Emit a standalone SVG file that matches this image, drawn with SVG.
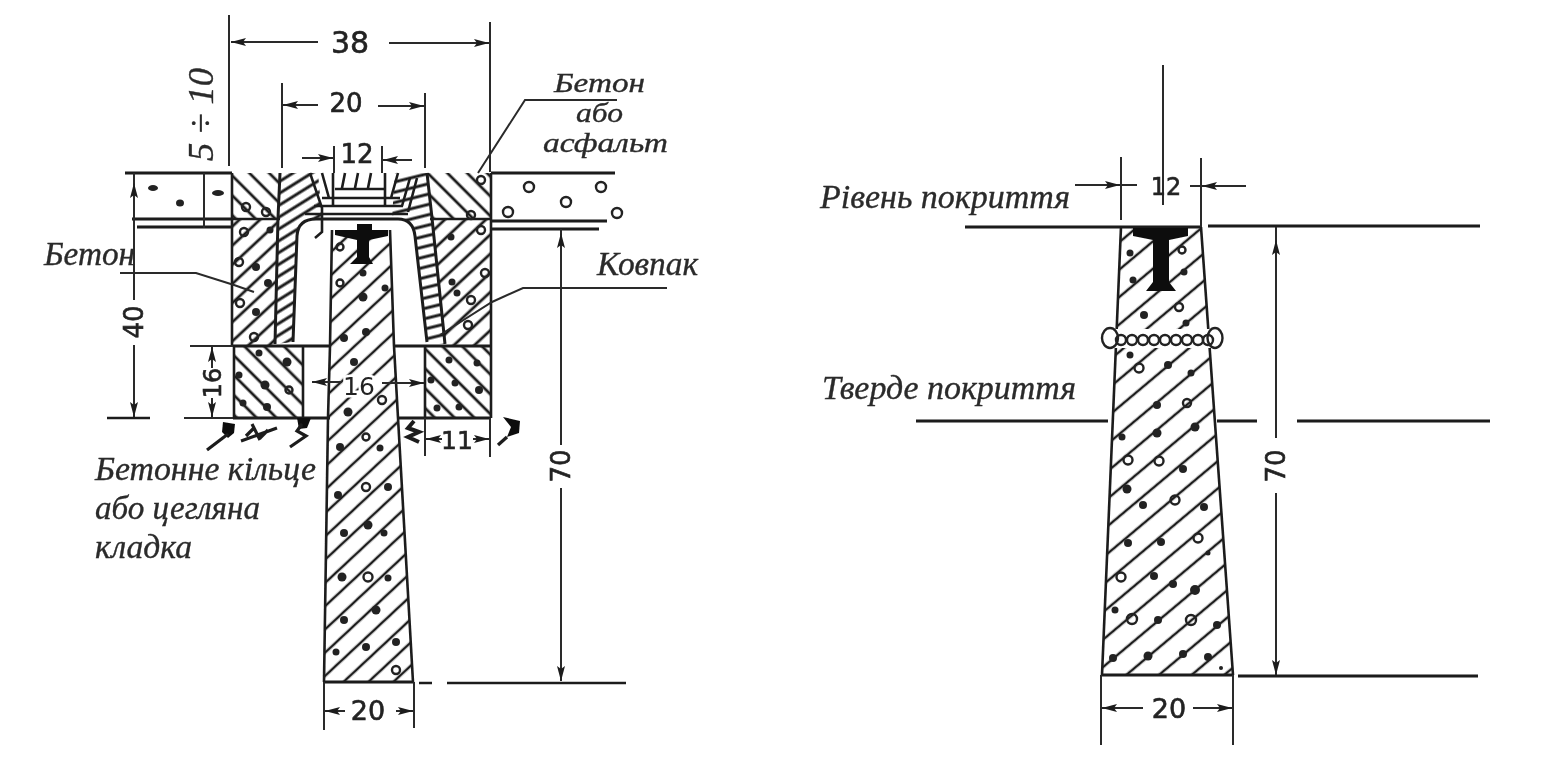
<svg xmlns="http://www.w3.org/2000/svg" width="1543" height="766" viewBox="0 0 1543 766">
<style>
.l{stroke:#1c1c1c;stroke-width:2.6;fill:none}
.t{stroke:#2a2a2a;stroke-width:2;fill:none}
.h{stroke:#1c1c1c;stroke-width:3;fill:none}
.a{marker-end:url(#ar)}
.o{fill:none;stroke:#222;stroke-width:2.4}
.d{fill:#222;stroke:none}
.n{font-family:"DejaVu Sans",sans-serif;font-size:26px;fill:#222;text-anchor:middle;stroke:#222;stroke-width:.6}
.c{font-family:"Liberation Serif","Times New Roman",serif;font-style:italic;font-size:33px;fill:#2a2a2a;stroke:#2a2a2a;stroke-width:.35}
.k{fill:#111;stroke:none}
.w{fill:#fff;stroke:none}
.e{fill:none;stroke:#1c1c1c;stroke-width:3.2}
</style>
<defs>
<filter id="scan" filterUnits="userSpaceOnUse" x="0" y="0" width="1543" height="766"><feGaussianBlur stdDeviation="0.55"/></filter>
<marker id="ar" markerWidth="16" markerHeight="9" refX="15" refY="4.5" orient="auto" markerUnits="userSpaceOnUse"><path d="M0 0.5L15 4.5L0 8.5L3 4.5Z" fill="#1c1c1c"/></marker>
<pattern id="hf" width="17" height="17" patternUnits="userSpaceOnUse" patternTransform="rotate(-43)"><line x1="0" y1="2" x2="17" y2="2" stroke="#1c1c1c" stroke-width="2.5"/></pattern>
<pattern id="hr" width="21" height="21" patternUnits="userSpaceOnUse" patternTransform="rotate(-40)"><line x1="0" y1="2" x2="21" y2="2" stroke="#1c1c1c" stroke-width="2.5"/></pattern>
<pattern id="hu" width="14" height="14" patternUnits="userSpaceOnUse" patternTransform="rotate(-43)"><line x1="0" y1="2" x2="14" y2="2" stroke="#1c1c1c" stroke-width="2.8"/></pattern>
<pattern id="hb" width="14" height="14" patternUnits="userSpaceOnUse" patternTransform="rotate(45)"><line x1="0" y1="2" x2="14" y2="2" stroke="#1c1c1c" stroke-width="2.8"/></pattern>
<pattern id="hc" width="10" height="10" patternUnits="userSpaceOnUse" patternTransform="rotate(-32)"><line x1="0" y1="2" x2="10" y2="2" stroke="#1c1c1c" stroke-width="3"/></pattern>
<pattern id="hcr" width="10" height="10" patternUnits="userSpaceOnUse" patternTransform="rotate(-14)"><line x1="0" y1="2" x2="10" y2="2" stroke="#1c1c1c" stroke-width="3"/></pattern>
</defs>
<rect width="1543" height="766" fill="#fff"/>
<g filter="url(#scan)">
<g id="ground-left">
<path class="h" d="M125 173H232M132 219H232M137 227H232"/>
<ellipse class="d" cx="153" cy="188" rx="5" ry="3"/><ellipse class="d" cx="180" cy="203" rx="4" ry="3.5"/><ellipse class="d" cx="218" cy="193" rx="6" ry="3"/>
</g>
<g id="ground-right">
<path class="h" d="M491 173H615M491 221H607M491 229H599"/>
<circle class="o" cx="529" cy="187" r="5"/><circle class="o" cx="601" cy="187" r="5"/><circle class="o" cx="566" cy="202" r="5"/><circle class="o" cx="508" cy="212" r="5"/><circle class="o" cx="617" cy="213" r="5"/>
</g>

<g id="concrete-block-upper">
<path fill="url(#hb)" d="M232 173H280L278 219H232ZM427 173H491V220H432Z"/>
<path fill="url(#hu)" d="M232 219H278L275 346H232ZM432 220H491V346H445Z"/>
<path class="l" d="M232 173V346M491 173V346M232 219H280M430 219H491"/>
<circle class="o" cx="246" cy="207" r="4"/><circle class="o" cx="266" cy="212" r="4"/><circle class="o" cx="244" cy="232" r="4"/><circle class="d" cx="270" cy="230" r="3.5"/><circle class="o" cx="239" cy="262" r="4"/><circle class="d" cx="256" cy="267" r="4"/><circle class="d" cx="268" cy="283" r="4"/><circle class="o" cx="240" cy="303" r="4"/><circle class="d" cx="256" cy="312" r="4"/><circle class="o" cx="254" cy="337" r="4"/>
<circle class="o" cx="481" cy="180" r="4"/><circle class="o" cx="471" cy="215" r="4"/><circle class="d" cx="451" cy="237" r="3.5"/><circle class="o" cx="481" cy="230" r="4"/><circle class="o" cx="485" cy="273" r="4"/><circle class="d" cx="457" cy="293" r="3.5"/><circle class="o" cx="471" cy="300" r="4"/><circle class="o" cx="468" cy="325" r="4"/><circle class="d" cx="452" cy="282" r="3.5"/>
</g>

<g id="cap">
<path fill="url(#hc)" d="M280 173H318L322 218H305L298 232L293 342L275 344L278 218Z"/>
<path fill="url(#hcr)" d="M395 173H427L432 218L445 344L427 342L414 232L403 218H392Z"/>
<path class="w" d="M293 342L297 236Q298 219 316 219H398Q413 219 415 236L427 342Z"/>
<path class="h" d="M280 173L278 218L275 344M427 173L432 218L445 344"/>
<path class="h" d="M297 236Q298 219 316 219H398Q413 219 415 236L427 342M297 236L293 342"/>
<path class="l" d="M335 189H385M322 198H400M314 206H403M305 214H408M310 173L322 208V232L315 238M322 173L329 198M333 173V206M385 173V206M345 173L342 188M358 173L355 188M371 173L368 188M398 173L391 198M410 178L402 206M417 178L408 212"/>
<path class="h" d="M233 346H330M394 346H491"/>
</g>

<g id="concrete-block-lower">
<path fill="url(#hb)" d="M233 346H303V418H233ZM425 346H491V418H425Z"/>
<path class="l" d="M234 346V418M303 346V418M425 346V418M491 346V418"/>
<path class="h" d="M233 418H330M397 418H491"/>
<circle class="d" cx="259" cy="353" r="3.5"/><circle class="d" cx="287" cy="362" r="4.5"/><circle class="d" cx="265" cy="385" r="4.5"/><circle class="o" cx="289" cy="390" r="3.5"/><circle class="d" cx="239" cy="375" r="3.5"/><circle class="d" cx="267" cy="407" r="4"/><circle class="d" cx="243" cy="403" r="3.5"/>
<circle class="d" cx="449" cy="360" r="3.5"/><circle class="d" cx="477" cy="363" r="3.5"/><circle class="d" cx="455" cy="383" r="3.5"/><circle class="d" cx="479" cy="390" r="4"/><circle class="d" cx="431" cy="380" r="3.5"/><circle class="d" cx="459" cy="407" r="3.5"/><circle class="d" cx="437" cy="408" r="3.5"/>
</g>

<g id="earth-marks">
<path class="k" d="M223 422L235 424L234 433L228 438L222 432Z"/>
<path class="e" d="M207 450L228 434M241 441L277 428M252 424L260 440M246 436L254 428M260 438L268 430"/>
<path class="k" d="M297 418H311L307 428L299 429Z"/>
<path class="e" d="M302 424L297 431L306 436L290 447"/>
<path class="e" style="stroke-width:4" d="M414 421L408 428L419 432L408 437L419 442"/>
<path class="k" d="M503 417L520 421L519 433L507 437L511 427Z"/>
<path class="e" d="M507 437L498 445"/>
</g>

<g id="pile-left">
<path fill="url(#hf)" d="M332 230H390L394 346L398 418L413 682H324L328 418L330 346Z"/>
<path class="l" d="M332 230L330 346L328 418L324 682M390 230L394 346L398 418L413 682"/>
<path class="h" d="M324 682H413"/>
<path class="k" d="M357 224H372V230H388V236L369 240V257L373 264H350L357 257V240L335 235V230H357Z"/>
<circle class="o" cx="340" cy="247" r="3.5"/><circle class="o" cx="340" cy="283" r="3.5"/><circle class="d" cx="363" cy="297" r="4.5"/><circle class="d" cx="385" cy="288" r="3.5"/><circle class="d" cx="344" cy="338" r="4"/><circle class="d" cx="366" cy="332" r="4"/><circle class="d" cx="363" cy="273" r="3.5"/>
<circle class="d" cx="354" cy="362" r="4"/><circle class="d" cx="348" cy="412" r="4.5"/><circle class="o" cx="382" cy="400" r="4"/><circle class="d" cx="340" cy="447" r="4"/><circle class="o" cx="366" cy="437" r="3.5"/><circle class="d" cx="380" cy="448" r="3.5"/><circle class="d" cx="338" cy="495" r="4"/><circle class="o" cx="366" cy="487" r="4"/><circle class="d" cx="388" cy="487" r="4"/><circle class="d" cx="344" cy="533" r="4"/><circle class="d" cx="368" cy="525" r="4.5"/><circle class="d" cx="384" cy="533" r="3.5"/><circle class="d" cx="342" cy="577" r="4.5"/><circle class="o" cx="368" cy="577" r="4.5"/><circle class="d" cx="388" cy="578" r="3.5"/><circle class="d" cx="344" cy="620" r="4"/><circle class="d" cx="376" cy="610" r="4.5"/><circle class="d" cx="336" cy="652" r="3.5"/><circle class="d" cx="366" cy="647" r="4"/><circle class="d" cx="396" cy="642" r="4"/><circle class="o" cx="396" cy="670" r="4"/>
</g>

<g id="pile-right">
<path fill="url(#hr)" d="M1121 227H1201L1233 675H1102Z"/>
<path class="l" d="M1121 227L1102 675M1201 227L1233 675"/>
<path class="h" d="M1102 675H1233M1121 227H1201"/>
<path class="k" d="M1133 228H1188V236L1169 240V282L1176 291H1146L1153 282V240L1133 236Z"/>
<path class="w" d="M1112 329H1213V348H1112Z"/>
<ellipse class="o" cx="1110" cy="338" rx="8" ry="10"/><ellipse class="o" cx="1215" cy="338" rx="7.500" ry="10"/>
<circle class="o" cx="1121" cy="340" r="5"/><circle class="o" cx="1132" cy="340" r="5"/><circle class="o" cx="1143" cy="340" r="5"/><circle class="o" cx="1154" cy="340" r="5"/><circle class="o" cx="1165" cy="340" r="5"/><circle class="o" cx="1176" cy="340" r="5"/><circle class="o" cx="1187" cy="340" r="5"/><circle class="o" cx="1198" cy="340" r="5"/><circle class="o" cx="1208" cy="340" r="5"/>
<circle class="d" cx="1130" cy="253" r="3.5"/><circle class="o" cx="1182" cy="250" r="3.5"/><circle class="d" cx="1133" cy="280" r="3.5"/><circle class="d" cx="1184" cy="272" r="3.5"/><circle class="o" cx="1179" cy="307" r="4"/><circle class="d" cx="1144" cy="315" r="4"/><circle class="d" cx="1186" cy="323" r="3.5"/><circle class="d" cx="1130" cy="355" r="3.5"/><circle class="d" cx="1168" cy="365" r="4"/><circle class="o" cx="1139" cy="368" r="4.5"/><circle class="d" cx="1191" cy="373" r="3.5"/>
<circle class="d" cx="1157" cy="405" r="4"/><circle class="o" cx="1187" cy="403" r="4"/><circle class="d" cx="1122" cy="437" r="3.5"/><circle class="d" cx="1157" cy="433" r="4.5"/><circle class="d" cx="1195" cy="427" r="4.5"/><circle class="o" cx="1128" cy="460" r="4.5"/><circle class="o" cx="1159" cy="461" r="4.5"/><circle class="d" cx="1183" cy="469" r="4"/><circle class="d" cx="1127" cy="489" r="4.5"/><circle class="d" cx="1143" cy="505" r="4"/><circle class="o" cx="1175" cy="500" r="4.5"/><circle class="d" cx="1204" cy="507" r="4"/><circle class="d" cx="1128" cy="543" r="4"/><circle class="d" cx="1161" cy="542" r="4"/><circle class="o" cx="1198" cy="538" r="4.5"/><circle class="d" cx="1208" cy="553" r="2.500"/><circle class="o" cx="1121" cy="577" r="4.5"/><circle class="d" cx="1154" cy="576" r="4"/><circle class="d" cx="1173" cy="584" r="4"/><circle class="d" cx="1195" cy="590" r="5"/><circle class="d" cx="1115" cy="610" r="3.5"/><circle class="o" cx="1132" cy="619" r="5"/><circle class="d" cx="1158" cy="620" r="4"/><circle class="o" cx="1191" cy="620" r="5"/><circle class="d" cx="1217" cy="625" r="4"/><circle class="d" cx="1113" cy="658" r="4"/><circle class="d" cx="1148" cy="656" r="4.5"/><circle class="d" cx="1183" cy="654" r="4"/><circle class="d" cx="1208" cy="657" r="4"/><circle class="d" cx="1221" cy="668" r="2"/>
</g>

<g id="connectors">
<path class="t" d="M229 15V166M490 22V172M282 83V168M425 93V168M334 146V173M382 146V173"/>
<path class="t a" d="M318 42H231"/><path class="t a" d="M389 43H489"/>
<path class="t a" d="M318 105H283"/><path class="t a" d="M378 106H424"/>
<path class="t a" d="M302 158H333"/><path class="t a" d="M412 160H383"/>
<path class="t a" d="M134 300V183"/><path class="t" d="M134 183V173"/><path class="t a" d="M134 345V417"/><path class="l" d="M107 418H150"/>
<path class="t" d="M204 173V228"/>
<path class="t" d="M190 346H233M184 418H233"/>
<path class="t a" d="M212 368V347"/><path class="t a" d="M212 398V417"/>
<path class="t a" d="M342 382H312"/><path class="t a" d="M382 383H424"/>
<path class="t" d="M425 418V456M490 418V457"/>
<path class="t a" d="M442 439H426"/><path class="t a" d="M473 439H489"/>
<path class="t a" d="M561 445V233"/><path class="t" d="M561 233V229"/><path class="t a" d="M561 488V681"/>
<path class="l" d="M419 683H432M447 683H626"/>
<path class="t" d="M324 682V730M414 682V728"/>
<path class="t a" d="M345 711H325"/><path class="t a" d="M396 711H413"/>
<path class="t" d="M478 173L525 100H617"/>
<path class="t" d="M120 273H196L234 285L254 292"/>
<path class="t" d="M667 288H523L492 302L440 335"/>
<path class="t" d="M1163 65V205M1121 157V220M1201 158V227"/>
<path class="t a" d="M1075 185H1120"/><path class="t a" d="M1246 186H1202"/>
<path class="t" d="M1120 185H1137M1190 186H1201"/>
<path class="h" d="M965 227H1121M1208 226H1480M916 421H1108M1217 421H1257M1297 421H1490M1238 676H1478"/>
<path class="t a" d="M1276 438V240"/><path class="t" d="M1276 240V227"/><path class="t a" d="M1276 493V675"/>
<path class="t" d="M1101 675V745M1233 675V745"/>
<path class="t a" d="M1143 708H1102"/><path class="t a" d="M1193 708H1232"/>
</g>

<g id="labels">
<text class="n" x="350" y="53" style="font-size:30px">38</text>
<text class="n" x="346" y="112">20</text>
<text class="n" x="357" y="163">12</text>
<text class="n" x="359" y="395" style="font-size:25px;paint-order:stroke;stroke:#fff;stroke-width:5">16</text>
<text class="n" x="457" y="449" style="font-size:25px">11</text>
<text class="n" x="368" y="720" style="font-size:27px">20</text>
<text class="n" x="1166" y="195" style="font-size:24px">12</text>
<text class="n" x="1169" y="718" style="font-size:27px">20</text>
<text class="n" transform="translate(143 322) rotate(-90)">40</text>
<text class="n" transform="translate(221 383) rotate(-90)" style="font-size:24px">16</text>
<text class="n" transform="translate(570 466) rotate(-90)">70</text>
<text class="n" transform="translate(1285 466) rotate(-90)">70</text>
<text class="c" transform="translate(213 161) rotate(-90)" textLength="93" lengthAdjust="spacingAndGlyphs" style="font-size:35px">5 ÷ 10</text>
<text class="c" x="554" y="92" textLength="91" lengthAdjust="spacingAndGlyphs" style="font-size:27px">Бетон</text>
<text class="c" x="576" y="122" textLength="47" lengthAdjust="spacingAndGlyphs" style="font-size:27px">або</text>
<text class="c" x="543" y="152" textLength="125" lengthAdjust="spacingAndGlyphs" style="font-size:27px">асфальт</text>
<text class="c" x="44" y="265" textLength="91" lengthAdjust="spacingAndGlyphs">Бетон</text>
<text class="c" x="597" y="275" textLength="101" lengthAdjust="spacingAndGlyphs">Ковпак</text>
<text class="c" x="95" y="480" textLength="221" lengthAdjust="spacingAndGlyphs">Бетонне кільце</text>
<text class="c" x="95" y="519" textLength="165" lengthAdjust="spacingAndGlyphs">або цегляна</text>
<text class="c" x="95" y="558" textLength="97" lengthAdjust="spacingAndGlyphs">кладка</text>
<text class="c" x="820" y="208" textLength="250" lengthAdjust="spacingAndGlyphs">Рівень покриття</text>
<text class="c" x="822" y="399" textLength="254" lengthAdjust="spacingAndGlyphs">Тверде покриття</text>
</g>
</g>
</svg>
